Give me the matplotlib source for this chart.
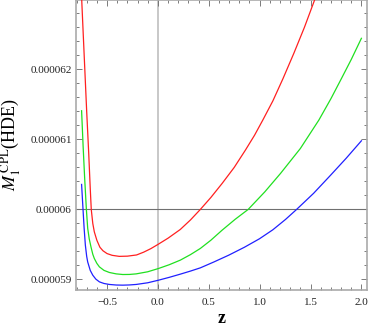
import matplotlib
matplotlib.use("Agg")
import matplotlib.pyplot as plt
from matplotlib.ticker import MultipleLocator, FixedLocator

plt.rcParams['font.family'] = ['Liberation Serif', 'DejaVu Serif']
plt.rcParams['mathtext.fontset'] = 'stix'

# data (values in units of 1e-6)
z_red = [-0.753, -0.74, -0.72, -0.70, -0.68, -0.665, -0.655, -0.64, -0.625, -0.60,
         -0.57, -0.54, -0.50, -0.45, -0.38, -0.30, -0.21, -0.14, -0.07, 0.0,
         0.10, 0.22, 0.32, 0.417, 0.52, 0.631, 0.75, 0.86, 0.95, 1.031, 1.13,
         1.23, 1.336, 1.44, 1.54, 1.60]
m_red = [63.13, 62.70, 62.05, 61.40, 60.80, 60.30, 60.00, 59.80, 59.68, 59.56,
         59.46, 59.41, 59.37, 59.345, 59.33, 59.333, 59.35, 59.39, 59.44, 59.50,
         59.59, 59.714, 59.85, 60.00, 60.17, 60.371, 60.60, 60.847, 61.06, 61.276, 61.55,
         61.87, 62.229, 62.60, 62.99, 63.22]

z_green = [-0.75, -0.735, -0.72, -0.703, -0.69, -0.675, -0.657, -0.64, -0.625, -0.60,
           -0.575, -0.53, -0.477, -0.41, -0.345, -0.28, -0.214, -0.10, 0.006, 0.11,
           0.22, 0.32, 0.417, 0.52, 0.631, 0.76, 0.887, 1.05, 1.205, 1.40,
           1.582, 1.70, 1.796, 1.90, 2.0]
m_green = [61.409, 60.90, 60.45, 60.00, 59.73, 59.58, 59.46, 59.36, 59.30, 59.23,
           59.18, 59.13, 59.10, 59.08, 59.071, 59.072, 59.08, 59.11, 59.157, 59.21,
           59.276, 59.355, 59.443, 59.56, 59.704, 59.86, 60.00, 60.25, 60.514, 60.87,
           61.276, 61.58, 61.847, 62.14, 62.443]

z_blue = [-0.75, -0.736, -0.725, -0.713, -0.70, -0.69, -0.665, -0.64, -0.61, -0.575,
          -0.53, -0.477, -0.41, -0.345, -0.28, -0.214, -0.10, 0.006, 0.11, 0.22,
          0.32, 0.417, 0.55, 0.696, 0.85, 0.998, 1.13, 1.254, 1.363, 1.53,
          1.698, 1.85, 2.0]
m_blue = [60.357, 60.00, 59.73, 59.49, 59.33, 59.25, 59.13, 59.061, 59.005, 58.966,
          58.943, 58.929, 58.921, 58.919, 58.922, 58.929, 58.953, 58.99, 59.03, 59.076,
          59.12, 59.166, 59.25, 59.347, 59.46, 59.581, 59.71, 59.857, 60.00, 60.23,
          60.49, 60.73, 60.98]

x_ticks = [-0.5, 0.0, 0.5, 1.0, 1.5, 2.0]
x_tick_labels = ['\u22120.5', '0.0', '0.5', '1.0', '1.5', '2.0']
y_ticks = [5.9e-5, 6.0e-5, 6.1e-5, 6.2e-5]
y_tick_labels = ['0.000059', '0.00006', '0.000061', '0.000062']

W, H = 368, 327
fig = plt.figure(figsize=(W / 100, H / 100), dpi=100)
ax = fig.add_axes([76 / W, 1 - 289.5 / H, (367 - 76) / W, 289.5 / H])

for zs, ms, c in [(z_red, m_red, '#ff2020'), (z_green, m_green, '#20e020'),
                  (z_blue, m_blue, '#2020ff')]:
    ax.plot(zs, [m * 1e-6 for m in ms], color=c, lw=0.9, zorder=3,
            solid_joinstyle='round')

ax.axvline(0.0, color='#c8c8c8', lw=1.4, zorder=1)
ax.axhline(6.0e-5, color='#707070', lw=0.8, zorder=2)

ax.set_xlim(-0.805, 2.055)
ax.set_ylim(5.8857e-5, 6.299e-5)

ax.xaxis.set_major_locator(FixedLocator(x_ticks))
ax.set_xticklabels(x_tick_labels)
ax.xaxis.set_minor_locator(MultipleLocator(0.1))
ax.yaxis.set_major_locator(FixedLocator(y_ticks))
ax.set_yticklabels(y_tick_labels)
ax.yaxis.set_minor_locator(MultipleLocator(0.2e-6))

ax.tick_params(which='both', direction='in', top=True, right=True,
               color='#666666', width=0.6, labelsize=8, labelcolor='#222222')
ax.tick_params(which='major', length=4.5, pad=3)
ax.tick_params(which='minor', length=2.5)
ax.tick_params(axis='x', pad=6)

for s in ax.spines.values():
    s.set_color('#aaaaaa')
    s.set_linewidth(1.2)

ax.set_xlabel('z', fontsize=13, fontweight='bold', labelpad=2)
ax.set_ylabel(r'$M_1^{\,\mathrm{CPL}}$(HDE)', fontsize=13, labelpad=5)

fig.savefig('out.png', dpi=100)
